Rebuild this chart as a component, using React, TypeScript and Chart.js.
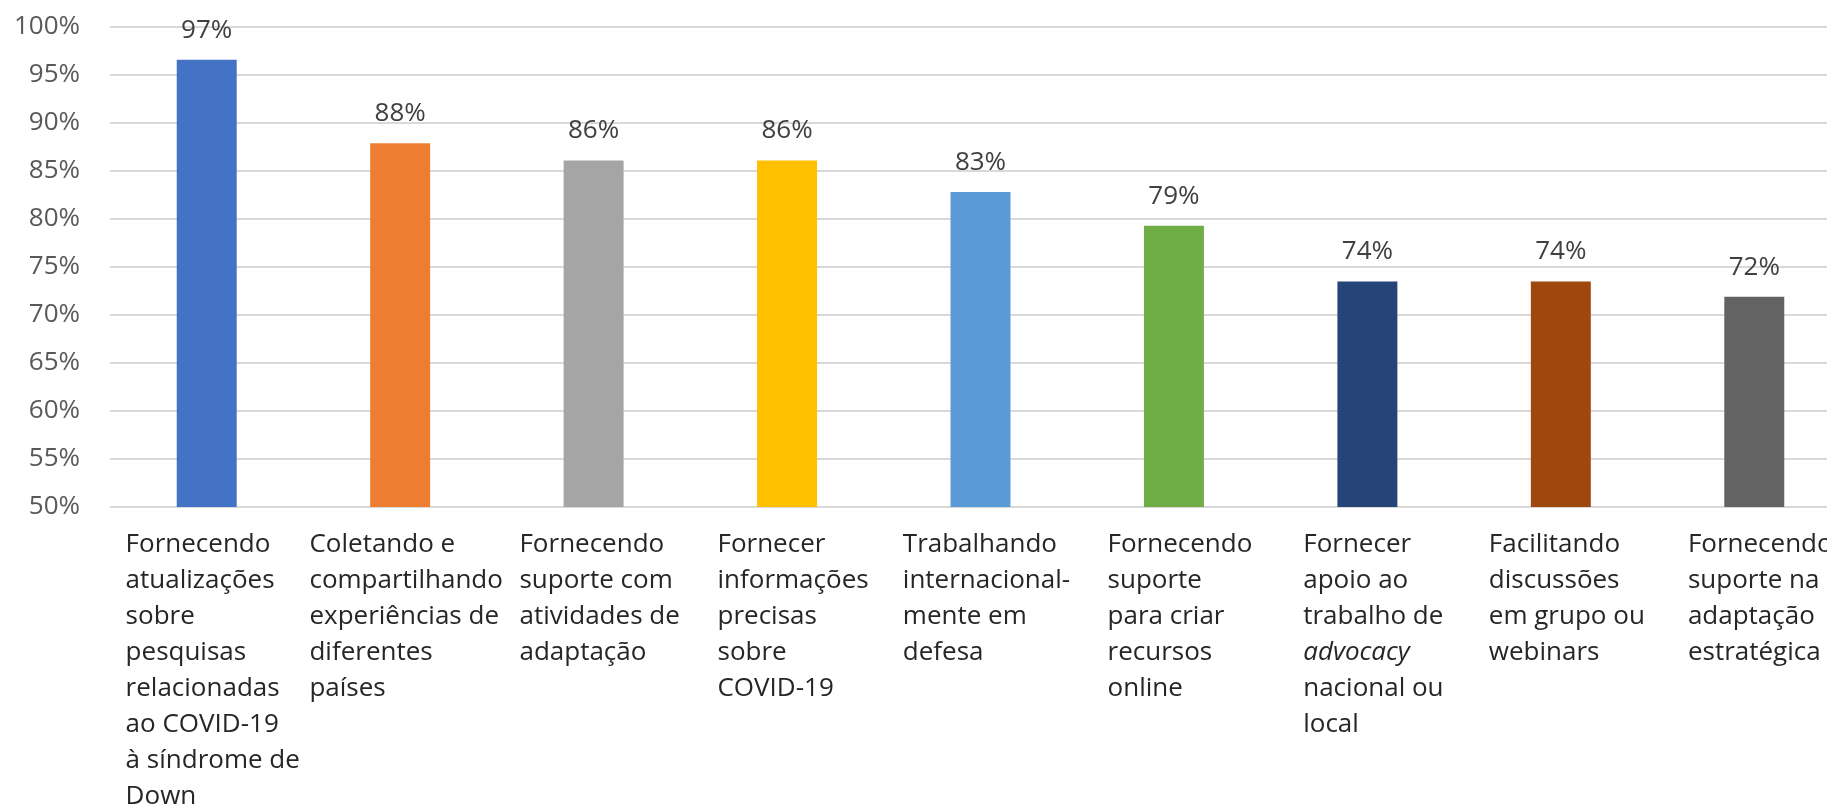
import { useEffect, useRef } from 'react';
import { Chart, registerables } from 'chart.js';

Chart.register(...registerables);

const CATEGORIES: string[][] = [
  ['Fornecendo', 'atualizações', 'sobre', 'pesquisas', 'relacionadas', 'ao COVID-19', 'à síndrome de', 'Down'],
  ['Coletando e', 'compartilhando', 'experiências de', 'diferentes', 'países'],
  ['Fornecendo', 'suporte com', 'atividades de', 'adaptação'],
  ['Fornecer', 'informações', 'precisas', 'sobre', 'COVID-19'],
  ['Trabalhando', 'internacional-', 'mente em', 'defesa'],
  ['Fornecendo', 'suporte', 'para criar', 'recursos', 'online'],
  ['Fornecer', 'apoio ao', 'trabalho de', 'advocacy', 'nacional ou', 'local'],
  ['Facilitando', 'discussões', 'em grupo ou', 'webinars'],
  ['Fornecendo', 'suporte na', 'adaptação', 'estratégica'],
];

const VALUES: number[] = [96.6, 87.9, 86.1, 86.1, 82.8, 79.3, 73.5, 73.5, 71.9];

const COLORS: string[] = [
  '#4472C4', '#ED7D31', '#A5A5A5', '#FFC000', '#5B9BD5', '#70AD47', '#264478', '#9E480E', '#636363',
];

const ITALIC_LINES: string[] = ['advocacy'];

const Y_MIN = 50;
const Y_MAX = 100;
const Y_STEP = 5;

const LABEL_FONT_SIZE = 26;
const LABEL_LINE_HEIGHT = 36;
const LABEL_FAMILY = '"Open Sans", Lato, sans-serif';
const LABEL_INSET = 6;

const labelFont = (line: string) =>
  `${ITALIC_LINES.includes(line) ? 'italic ' : ''}${LABEL_FONT_SIZE}px ${LABEL_FAMILY}`;

const categoryLabelsPlugin = {
  id: 'categoryLabels',
  afterDraw(chart: any) {
    const ctx = chart.ctx as CanvasRenderingContext2D;
    const xScale = chart.scales.x;
    const top = chart.chartArea.bottom + 20;
    ctx.save();
    ctx.fillStyle = '#262626';
    ctx.textBaseline = 'middle';
    ctx.textAlign = 'left';
    CATEGORIES.forEach((lines, i) => {
      const cx = xScale.getPixelForValue(i);
      let maxW = 0;
      lines.forEach((line) => {
        ctx.font = labelFont(line);
        maxW = Math.max(maxW, ctx.measureText(line).width);
      });
      const left = cx - maxW / 2 + LABEL_INSET;
      lines.forEach((line, k) => {
        ctx.font = labelFont(line);
        ctx.fillText(line, left, top + LABEL_LINE_HEIGHT / 2 + k * LABEL_LINE_HEIGHT);
      });
    });
    ctx.restore();
  },
};

const valueLabelsPlugin = {
  id: 'valueLabels',
  afterDatasetsDraw(chart: any) {
    const ctx = chart.ctx as CanvasRenderingContext2D;
    const meta = chart.getDatasetMeta(0);
    ctx.save();
    ctx.font = '26px "Open Sans", sans-serif';
    ctx.fillStyle = '#404040';
    ctx.textAlign = 'center';
    ctx.textBaseline = 'alphabetic';
    meta.data.forEach((bar: any, i: number) => {
      const { x, y } = bar.getProps(['x', 'y'], true);
      ctx.fillText(`${Math.round(VALUES[i])}%`, x, y - 22);
    });
    ctx.restore();
  },
};

export default function App() {
  const canvasRef = useRef<HTMLCanvasElement | null>(null);

  useEffect(() => {
    if (!canvasRef.current) return;
    const chart = new Chart(canvasRef.current, {
      type: 'bar',
      data: {
        labels: CATEGORIES.map((l) => l.join(' ')),
        datasets: [
          {
            data: VALUES,
            backgroundColor: COLORS,
            borderWidth: 0,
            barPercentage: 0.31,
            categoryPercentage: 1,
          },
        ],
      },
      options: {
        responsive: false,
        animation: false,
        layout: { padding: { top: 27, bottom: 298, left: 0, right: 0 } },
        plugins: {
          legend: { display: false },
          tooltip: { enabled: false },
        },
        scales: {
          x: {
            display: false,
          },
          y: {
            min: Y_MIN,
            max: Y_MAX,
            afterFit: (scale: any) => {
              scale.width = 110;
            },
            ticks: {
              stepSize: Y_STEP,
              padding: 0,
              color: '#595959',
              font: { family: '"Open Sans", sans-serif', size: 26 },
              callback: (v: any) => `${v}%`,
            },
            grid: {
              color: '#d9d9d9',
              lineWidth: 2,
              drawTicks: true,
              tickLength: 30,
              tickColor: 'rgba(0,0,0,0)',
            },
            border: { display: false },
          },
        },
      },
      plugins: [valueLabelsPlugin, categoryLabelsPlugin],
    });
    return () => chart.destroy();
  }, []);

  return (
    <div
      style={{
        position: 'fixed',
        left: 0,
        top: 0,
        width: 1827,
        height: 805,
        overflow: 'hidden',
        background: '#ffffff',
      }}
    >
      <canvas ref={canvasRef} width={1851} height={805} style={{ width: 1851, height: 805, display: 'block' }} />
    </div>
  );
}
